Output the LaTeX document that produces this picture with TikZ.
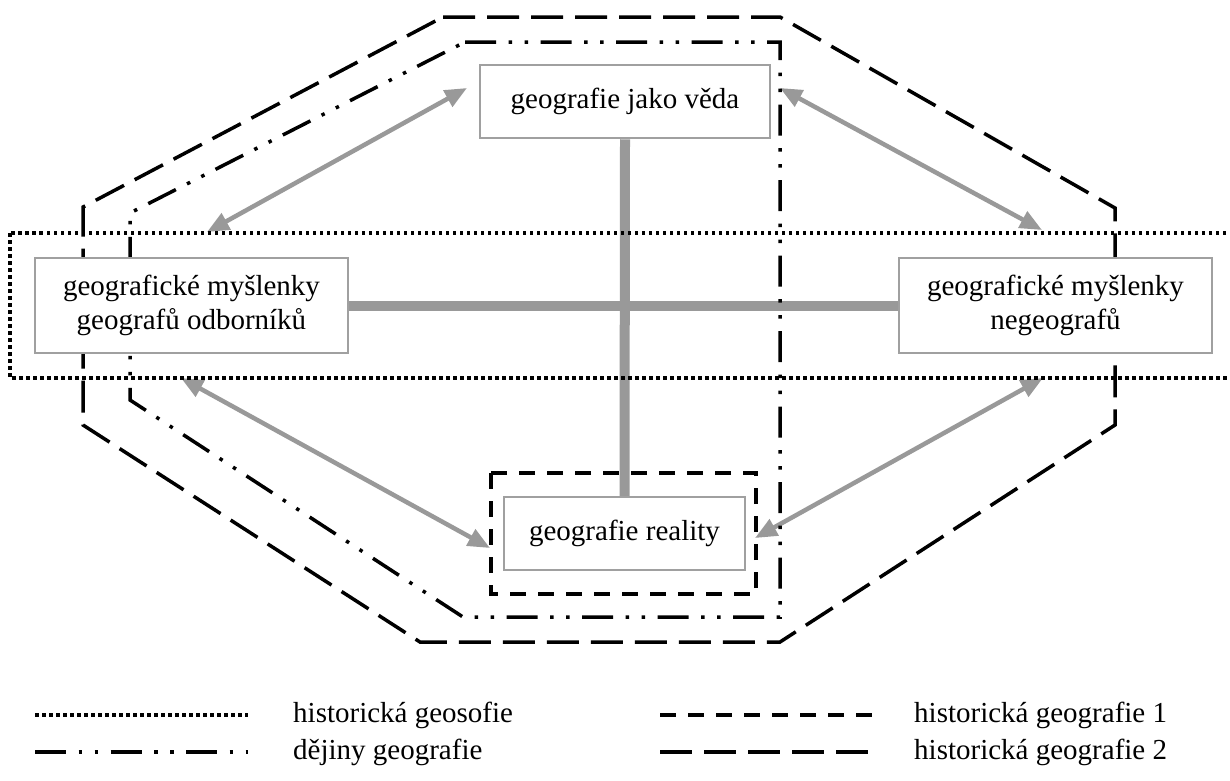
\documentclass[tikz,border=0pt]{standalone}
\usepackage{fontspec}
\setmainfont{Liberation Serif}
\usetikzlibrary{arrows.meta}

\definecolor{linegray}{RGB}{153,153,153}
\definecolor{boxgray}{RGB}{160,160,160}

\pgfdeclarelayer{background}
\pgfsetlayers{background,main}

\tikzset{
  box/.style={draw=boxgray, line width=2.5pt, fill=white, align=center, inner sep=0pt},
  link/.style={linegray, line width=10pt},
  relation/.style={linegray, line width=4.5pt, {Triangle[length=22pt,width=18pt]}-{Triangle[length=22pt,width=18pt]}},
  geosofie/.style={line width=3.5pt, dash pattern=on 3.5pt off 3.5pt},
  dejiny/.style={line width=3.5pt, dash pattern=on 31pt off 12.5pt on 3.5pt off 12.5pt on 3.5pt off 12.5pt},
  hgone/.style={line width=3.5pt, dash pattern=on 16pt off 12pt},
  hgtwo/.style={line width=3.5pt, dash pattern=on 32pt off 12pt},
}

\begin{document}
\begin{tikzpicture}[x=1pt, y=-1pt, font=\fontsize{29}{34}\selectfont]
\clip (0,0) rectangle (1230,780);

% areas
\draw[geosofie] (10,233) rectangle (1250,378);
\draw[dejiny] (465,42) -- (780,42) -- (780,617) -- (463,617) -- (130,400) -- (130,213) -- cycle;
\draw[hgone] (491,473) rectangle (756,594);
\draw[hgtwo] (443,17) -- (780,17) -- (1115,208) -- (1115,425) -- (780,642) -- (420,642) -- (83,425) -- (83,207) -- cycle;

% boxes
\node[box, minimum width=290, minimum height=73] (veda) at (625,101.5) {geografie jako věda};
\node[box, minimum width=313, minimum height=95] (odbor) at (191.5,305.5) {geografické myšlenky\\geografů odborníků};
\node[box, minimum width=313, minimum height=95] (negeo) at (1055.5,305.5) {geografické myšlenky\\negeografů};
\node[box, minimum width=241, minimum height=73] (real) at (624.5,533.5) {geografie reality};

% arrow ends
\coordinate (a1) at (207,232); \coordinate (a2) at (467,88);
\coordinate (b1) at (780,88);  \coordinate (b2) at (1042,230);
\coordinate (c1) at (181,378); \coordinate (c2) at (490,548);
\coordinate (d1) at (755,538); \coordinate (d2) at (1043,378);

\begin{pgfonlayer}{background}
\draw[link] (veda.south) -- (real.north);
\draw[link] (odbor.east) -- (negeo.west);
\foreach \p/\q in {a1/a2, b1/b2, c1/c2, d1/d2} \draw[relation] (\p) -- (\q);
\end{pgfonlayer}

% legend
\draw[geosofie] (35,715) -- (248,715);
\draw[dejiny] (35,752) -- (248,752);
\draw[hgone] (660,715) -- (872,715);
\draw[hgtwo] (660,752) -- (868,752);
\node[anchor=west, inner sep=0pt] (lgeosofie) at (293,715) {historická geosofie};
\node[anchor=west, inner sep=0pt] (ldejiny) at (293,752) {dějiny geografie};
\node[anchor=west, inner sep=0pt] (lhgone) at (914,715) {historická geografie 1};
\node[anchor=west, inner sep=0pt] (lhgtwo) at (914,752) {historická geografie 2};
\end{tikzpicture}
\end{document}
